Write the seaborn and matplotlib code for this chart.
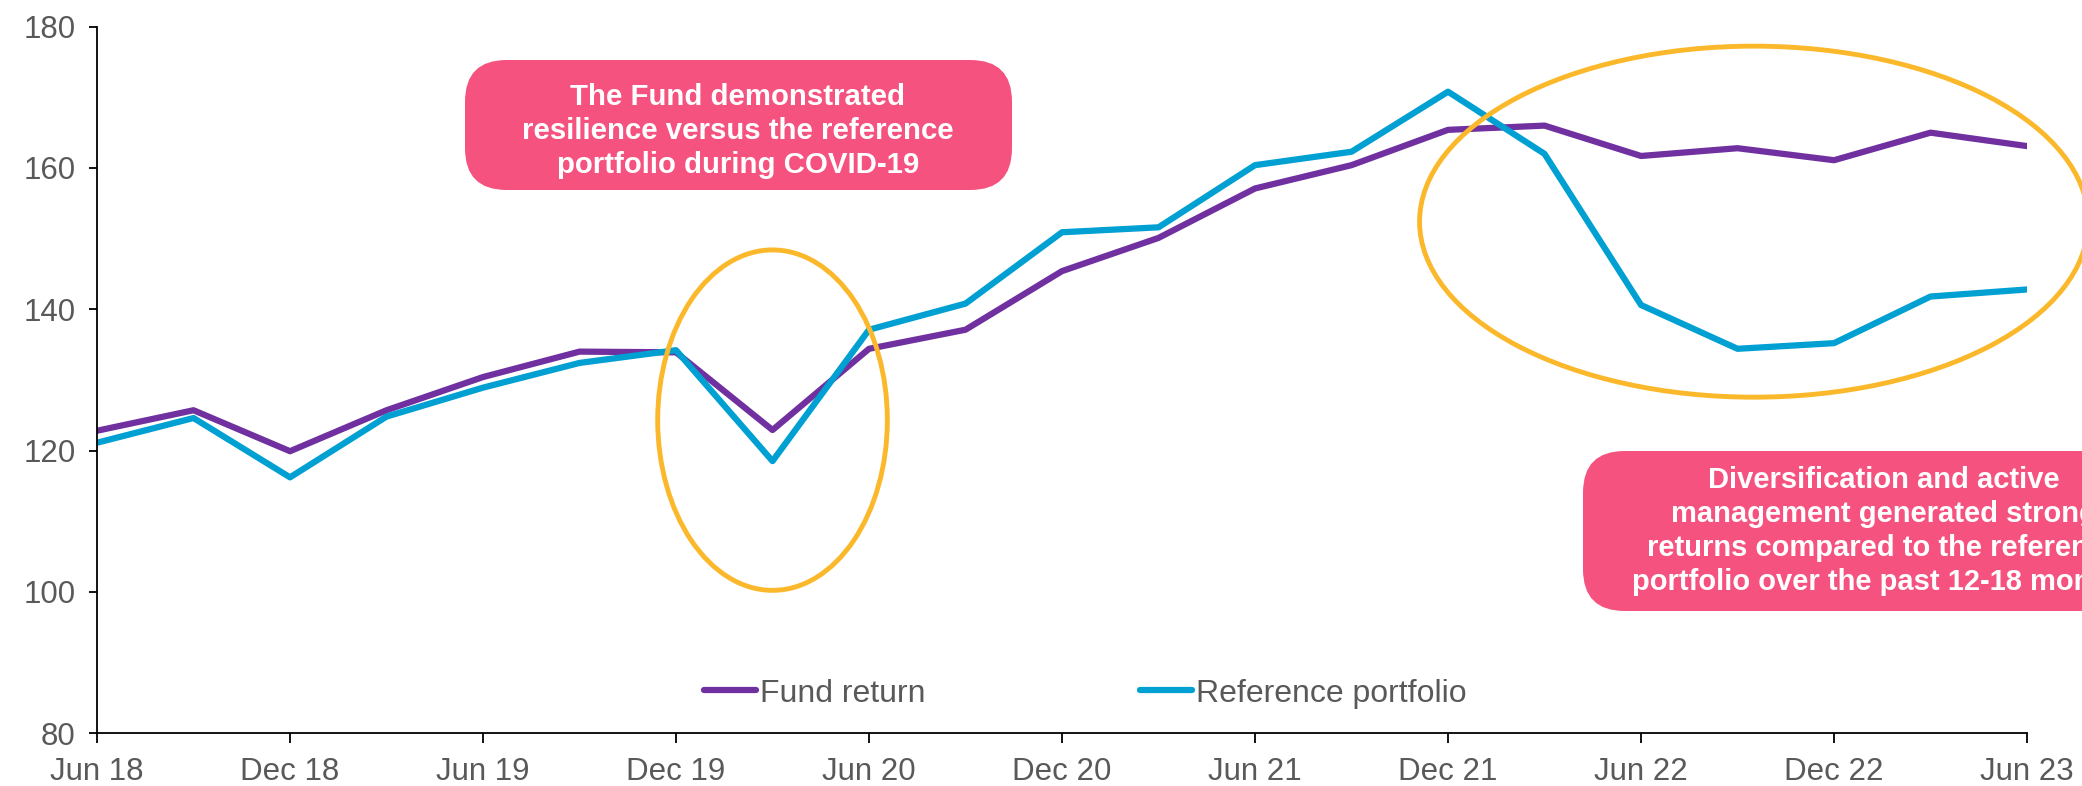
import matplotlib
matplotlib.use("Agg")
import matplotlib.pyplot as plt
from matplotlib.patches import Ellipse, FancyBboxPatch
import seaborn as sns
import pandas as pd
import numpy as np

quarters = ["Jun 18", "Sep 18", "Dec 18", "Mar 19", "Jun 19", "Sep 19", "Dec 19",
            "Mar 20", "Jun 20", "Sep 20", "Dec 20", "Mar 21", "Jun 21", "Sep 21",
            "Dec 21", "Mar 22", "Jun 22", "Sep 22", "Dec 22", "Mar 23", "Jun 23"]
fund_return = [122.8, 125.7, 119.9, 125.7, 130.4, 134.0, 133.9, 122.9, 134.4, 137.1,
               145.4, 150.1, 157.1, 160.4, 165.4, 166.0, 161.7, 162.8, 161.1, 165.0, 163.1]
reference_portfolio = [121.1, 124.6, 116.2, 124.8, 128.9, 132.4, 134.2, 118.5, 137.1, 140.8,
                       150.9, 151.6, 160.4, 162.3, 170.8, 162.0, 140.6, 134.4, 135.2, 141.8, 142.8]
series_names = ["Fund return", "Reference portfolio"]
tick_labels = ["Jun 18", "Dec 18", "Jun 19", "Dec 19", "Jun 20", "Dec 20",
               "Jun 21", "Dec 21", "Jun 22", "Dec 22", "Jun 23"]
yticks = [80, 100, 120, 140, 160, 180]

df = pd.DataFrame({
    "idx": list(range(len(quarters))) * 2,
    "value": fund_return + reference_portfolio,
    "series": [series_names[0]] * len(quarters) + [series_names[1]] * len(quarters),
})

sns.set_theme(style="ticks")
plt.rcParams['font.family'] = ['Liberation Sans', 'DejaVu Sans']

fig = plt.figure(figsize=(20.82, 7.86), dpi=100)
ax = fig.add_axes([0.0466, 0.0674, 0.9270, 0.8986])

palette = {"Fund return": "#7030A0", "Reference portfolio": "#00A0D2"}
sns.lineplot(data=df, x="idx", y="value", hue="series", palette=palette,
             linewidth=4.5, ax=ax, legend=True)

ax.set_xlim(0, len(quarters) - 1)
ax.set_ylim(80, 180)
ax.set_xticks(list(range(0, len(quarters), 2)))
ax.set_xticklabels(tick_labels)
ax.set_yticks(yticks)
ax.set_xlabel("")
ax.set_ylabel("")
for s in ["top", "right"]:
    ax.spines[s].set_visible(False)
for s in ["left", "bottom"]:
    ax.spines[s].set_color("#000000")
    ax.spines[s].set_linewidth(1.3)
ax.tick_params(axis="both", which="major", direction="out", width=1.3,
               color="#000000", labelsize=22.5, labelcolor="#595959",
               bottom=True, left=True)
ax.tick_params(axis="x", length=7.5, pad=10)
ax.tick_params(axis="y", length=6, pad=9.5)

leg = ax.legend(loc="lower center", bbox_to_anchor=(0.512, -0.006), ncol=2, frameon=False,
                fontsize=23, handlelength=1.65, handletextpad=0.12, columnspacing=6.7)
for t in leg.get_texts():
    t.set_color("#595959")
for h in leg.get_lines():
    h.set_linewidth(4.5)

# Ellipses
ell_color = "#FBB82B"
ax.add_patch(Ellipse((7.0, 124.3), 2.38, 48.2, fill=False, edgecolor=ell_color,
                     linewidth=3.5, clip_on=False, zorder=5))
ax.add_patch(Ellipse((17.17, 152.4), 6.93, 49.7, fill=False, edgecolor=ell_color,
                     linewidth=3.5, clip_on=False, zorder=5))

# Annotation boxes (figure pixel coords)
pink = "#F5527F"
W, H = 2082, 786
def fig_box(x0, y0, x1, y1):
    return (x0 / W, 1 - y1 / H, (x1 - x0) / W, (y1 - y0) / H)

bx, by, bw, bh = fig_box(465, 60, 1012, 190)
fig.patches.append(FancyBboxPatch((bx, by), bw, bh, boxstyle="round,pad=0,rounding_size=0.02",
                                  transform=fig.transFigure, facecolor=pink, edgecolor="none",
                                  mutation_aspect=W / H, zorder=6))
fig.text(738 / W, 1 - 131 / H,
         "The Fund demonstrated\nresilience versus the reference\nportfolio during COVID-19",
         ha="center", va="center", color="white", fontsize=21.2, fontweight="bold",
         linespacing=1.28, zorder=7)

bx, by, bw, bh = fig_box(1583, 451, 2120, 611)
fig.patches.append(FancyBboxPatch((bx, by), bw, bh, boxstyle="round,pad=0,rounding_size=0.02",
                                  transform=fig.transFigure, facecolor=pink, edgecolor="none",
                                  mutation_aspect=W / H, zorder=6))
fig.text(1884 / W, 1 - 531 / H,
         "Diversification and active\nmanagement generated strong\nreturns compared to the reference\nportfolio over the past 12-18 months",
         ha="center", va="center", color="white", fontsize=21, fontweight="bold",
         linespacing=1.28, zorder=7)

fig.savefig("out.png", dpi=100)
